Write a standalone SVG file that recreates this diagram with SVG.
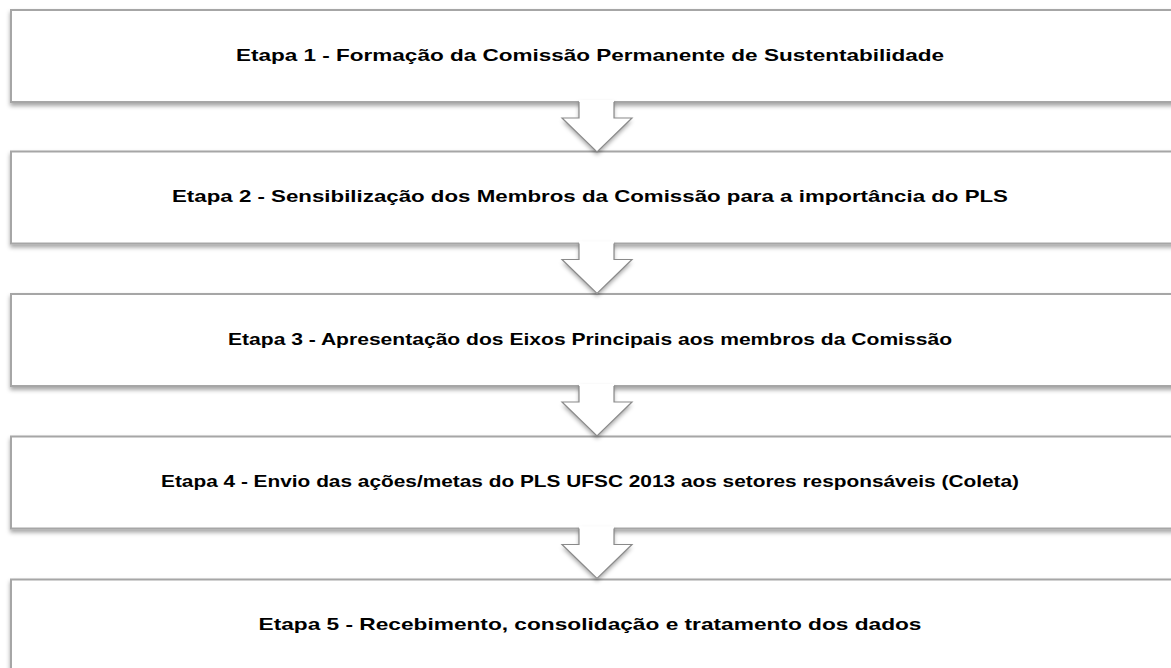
<svg xmlns="http://www.w3.org/2000/svg" width="1171" height="668" viewBox="0 0 1171 668">
<defs>
<filter id="sh" x="-5%" y="-20%" width="110%" height="150%">
<feDropShadow dx="0" dy="3" stdDeviation="2" flood-color="#000" flood-opacity="0.35"/>
</filter>
<style>
.box{fill:#fff;stroke:#a6a6a6;stroke-width:2}
.lbl{font-family:"Liberation Sans",Arial,sans-serif;font-weight:bold;font-size:17px;fill:#000;text-anchor:middle}
.af{fill:#fff;stroke:none}
.as{fill:none;stroke:#8a8a8a;stroke-width:1.2}
</style>
</defs>
<g id="node1"><rect class="box" x="11" y="10" width="1180" height="92" filter="url(#sh)"/><text class="lbl" x="590" y="61" textLength="708" lengthAdjust="spacingAndGlyphs">Etapa 1 - Formação da Comissão Permanente de Sustentabilidade</text></g>
<g id="node2"><rect class="box" x="11" y="151.5" width="1180" height="92" filter="url(#sh)"/><text class="lbl" x="590" y="202" textLength="836" lengthAdjust="spacingAndGlyphs">Etapa 2 - Sensibilização dos Membros da Comissão para a importância do PLS</text></g>
<g id="node3"><rect class="box" x="11" y="294" width="1180" height="92" filter="url(#sh)"/><text class="lbl" x="590" y="345" textLength="724" lengthAdjust="spacingAndGlyphs">Etapa 3 - Apresentação dos Eixos Principais aos membros da Comissão</text></g>
<g id="node4"><rect class="box" x="11" y="436.5" width="1180" height="92" filter="url(#sh)"/><text class="lbl" x="590" y="487" textLength="858" lengthAdjust="spacingAndGlyphs">Etapa 4 - Envio  das ações/metas do PLS UFSC 2013 aos setores responsáveis (Coleta)</text></g>
<g id="node5"><rect class="box" x="11" y="579.5" width="1180" height="100" filter="url(#sh)"/><text class="lbl" x="590" y="630" textLength="663" lengthAdjust="spacingAndGlyphs">Etapa 5 - Recebimento, consolidação e tratamento dos dados</text></g>
<g id="connectors">
<g transform="translate(0,102)"><polygon class="af" filter="url(#sh)" points="579,-2 614,-2 614,16 632,16 597,50 562,16 579,16"/><polyline class="as" points="579,0 579,16 562,16 597,50 632,16 614,16 614,0"/></g>
<g transform="translate(0,243.5)"><polygon class="af" filter="url(#sh)" points="579,-2 614,-2 614,16 632,16 597,50 562,16 579,16"/><polyline class="as" points="579,0 579,16 562,16 597,50 632,16 614,16 614,0"/></g>
<g transform="translate(0,386)"><polygon class="af" filter="url(#sh)" points="579,-2 614,-2 614,16 632,16 597,50 562,16 579,16"/><polyline class="as" points="579,0 579,16 562,16 597,50 632,16 614,16 614,0"/></g>
<g transform="translate(0,528.5)"><polygon class="af" filter="url(#sh)" points="579,-2 614,-2 614,16 632,16 597,50 562,16 579,16"/><polyline class="as" points="579,0 579,16 562,16 597,50 632,16 614,16 614,0"/></g>
</g>
</svg>
